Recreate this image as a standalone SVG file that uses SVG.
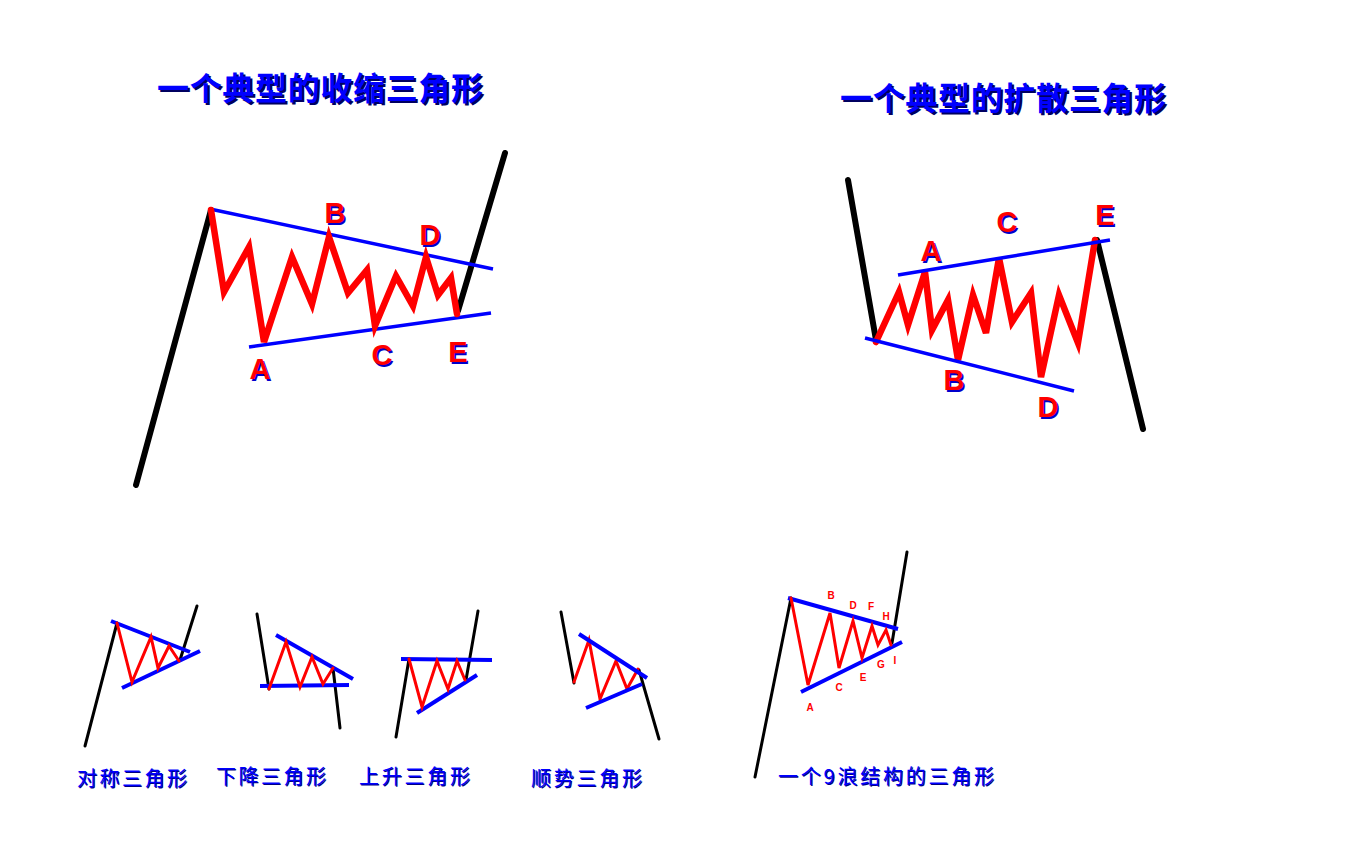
<svg xmlns="http://www.w3.org/2000/svg" width="1359" height="852" viewBox="0 0 1359 852">
<style>
.bk{fill:none;stroke:#000;stroke-linecap:round;stroke-linejoin:round}
.rd{fill:none;stroke:#ff0000;stroke-linejoin:miter;stroke-linecap:round}
.bl{fill:none;stroke:#0000ff;stroke-linecap:butt}
.title{font-family:"Noto Sans CJK SC",sans-serif;font-weight:bold;font-size:32px}
.tsh{fill:#000060}
.tfg{fill:#0000ff}
.lbl{font-family:"Liberation Sans",Arial,sans-serif;font-weight:bold;font-size:29px;text-anchor:middle}
.lsh{fill:#0000cc}
.lfg{fill:#ff0000}
.sl{font-family:"Liberation Sans",Arial,sans-serif;font-weight:bold;font-size:10px;text-anchor:middle;fill:#ff0000}
.cap{font-family:"Noto Sans CJK SC",sans-serif;font-size:20px;fill:#0000ff}
.capsh{font-family:"Noto Sans CJK SC",sans-serif;font-size:20px;fill:#000080}
</style>

<rect width="1359" height="852" fill="#ffffff"/>

<g id="title-left">
<text class="title tsh" x="159" y="102" textLength="326" lengthAdjust="spacing">一个典型的收缩三角形</text>
<text class="title tfg" x="157" y="100" textLength="326" lengthAdjust="spacing">一个典型的收缩三角形</text>
</g>
<g id="title-right">
<text class="title tsh" x="842" y="112" textLength="326" lengthAdjust="spacing">一个典型的扩散三角形</text>
<text class="title tfg" x="840" y="110" textLength="326" lengthAdjust="spacing">一个典型的扩散三角形</text>
</g>

<g id="connectors">
<g id="contracting">
<line class="bk" stroke-width="6" x1="136" y1="485" x2="211" y2="210"/>
<line class="bk" stroke-width="6" x1="458" y1="311" x2="505" y2="153"/>
<line class="bl" stroke-width="3.5" x1="210" y1="209" x2="493" y2="269"/>
<line class="bl" stroke-width="3.5" x1="249" y1="347" x2="491" y2="313"/>
<polyline class="rd" stroke-width="6.5" points="211,210 224,292 249,247 264,342 292,257 312,304 329,237 348,293 367,270 375,326 396,276 413,306 426,257 438,295 451,278 457,314"/>
</g>
<g id="expanding">
<line class="bk" stroke-width="6" x1="848" y1="180" x2="876" y2="340"/>
<line class="bk" stroke-width="6" x1="1097" y1="240" x2="1143" y2="429"/>
<polyline class="rd" stroke-width="6.5" points="876,342 899,292 908,325 925,272 932,330 948,300 958,360 973,295 986,333 999,258 1012,322 1031,293 1041,377 1059,295 1078,343 1095,240"/>
<line class="bl" stroke-width="3.5" x1="898" y1="275" x2="1110" y2="240"/>
<line class="bl" stroke-width="3.5" x1="865" y1="338" x2="1074" y2="391"/>
</g>
<g id="symmetric">
<line class="bk" stroke-width="3" x1="85" y1="746" x2="117" y2="623"/>
<line class="bk" stroke-width="3" x1="180" y1="660" x2="197" y2="606"/>
<line class="bl" stroke-width="4" x1="111" y1="621" x2="190" y2="652"/>
<line class="bl" stroke-width="4" x1="122" y1="688" x2="200" y2="651"/>
<polyline class="rd" stroke-width="3" points="117,623 132,682 151,637 158,668 169,646 179,661"/>
</g>
<g id="descending">
<line class="bk" stroke-width="3" x1="257" y1="614" x2="269" y2="689"/>
<line class="bk" stroke-width="3" x1="333" y1="668" x2="340" y2="728"/>
<line class="bl" stroke-width="4" x1="276" y1="635" x2="353" y2="679"/>
<line class="bl" stroke-width="4" x1="260" y1="686" x2="349" y2="685"/>
<polyline class="rd" stroke-width="3" points="269,689 286,642 300,687 312,657 323,684 333,668"/>
</g>
<g id="ascending">
<line class="bk" stroke-width="3" x1="396" y1="737" x2="409" y2="659"/>
<line class="bk" stroke-width="3" x1="466" y1="680" x2="478" y2="611"/>
<line class="bl" stroke-width="4" x1="401" y1="659" x2="492" y2="660"/>
<line class="bl" stroke-width="4" x1="417" y1="713" x2="477" y2="675"/>
<polyline class="rd" stroke-width="3" points="409,659 422,707 437,661 448,689 457,661 465,680"/>
</g>
<g id="trend">
<line class="bk" stroke-width="3" x1="561" y1="612" x2="574" y2="683"/>
<line class="bk" stroke-width="3" x1="639" y1="670" x2="659" y2="739"/>
<polyline class="rd" stroke-width="3" points="574,682 589,640 600,699 616,661 627,689 638,669"/>
<line class="bl" stroke-width="4" x1="579" y1="634" x2="647" y2="678"/>
<line class="bl" stroke-width="4" x1="586" y1="708" x2="642" y2="684"/>
</g>
<g id="ninewave">
<line class="bk" stroke-width="3" x1="755" y1="777" x2="791" y2="598"/>
<line class="bk" stroke-width="3" x1="892" y1="643" x2="907" y2="552"/>
<line class="bl" stroke-width="4" x1="788" y1="598" x2="898" y2="629"/>
<line class="bl" stroke-width="4" x1="801" y1="692" x2="902" y2="642"/>
<polyline class="rd" stroke-width="3" points="791,598 808,685 830,613 839,668 853,621 862,658 872,626 878,645 886,630 891,645"/>
</g>
</g>

<g id="labels-contracting">
<text class="lbl lsh" x="336.5" y="224.5">B</text><text class="lbl lfg" x="335" y="223">B</text>
<text class="lbl lsh" x="431.5" y="246.5">D</text><text class="lbl lfg" x="430" y="245">D</text>
<text class="lbl lsh" x="261.5" y="380.5">A</text><text class="lbl lfg" x="260" y="379">A</text>
<text class="lbl lsh" x="383.5" y="366.5">C</text><text class="lbl lfg" x="382" y="365">C</text>
<text class="lbl lsh" x="459.5" y="363.5">E</text><text class="lbl lfg" x="458" y="362">E</text>
</g>
<g id="labels-expanding">
<text class="lbl lsh" x="932.5" y="262.5">A</text><text class="lbl lfg" x="931" y="261">A</text>
<text class="lbl lsh" x="1008.5" y="233.5">C</text><text class="lbl lfg" x="1007" y="232">C</text>
<text class="lbl lsh" x="1106.5" y="226.5">E</text><text class="lbl lfg" x="1105" y="225">E</text>
<text class="lbl lsh" x="955.5" y="391.5">B</text><text class="lbl lfg" x="954" y="390">B</text>
<text class="lbl lsh" x="1049.5" y="418.5">D</text><text class="lbl lfg" x="1048" y="417">D</text>
</g>
<g id="labels-ninewave">
<text class="sl" x="831" y="599">B</text>
<text class="sl" x="853" y="609">D</text>
<text class="sl" x="871" y="610">F</text>
<text class="sl" x="886" y="620">H</text>
<text class="sl" x="810" y="711">A</text>
<text class="sl" x="839" y="691">C</text>
<text class="sl" x="863" y="681">E</text>
<text class="sl" x="881" y="668">G</text>
<text class="sl" x="895" y="664">I</text>
</g>

<g id="captions">
<text class="capsh" x="78" y="787" textLength="110" lengthAdjust="spacing">对称三角形</text>
<text class="cap" x="77" y="786" textLength="110" lengthAdjust="spacing">对称三角形</text>
<text class="capsh" x="217" y="785" textLength="110" lengthAdjust="spacing">下降三角形</text>
<text class="cap" x="216" y="784" textLength="110" lengthAdjust="spacing">下降三角形</text>
<text class="capsh" x="360" y="785" textLength="111" lengthAdjust="spacing">上升三角形</text>
<text class="cap" x="359" y="784" textLength="111" lengthAdjust="spacing">上升三角形</text>
<text class="capsh" x="532" y="787" textLength="111" lengthAdjust="spacing">顺势三角形</text>
<text class="cap" x="531" y="786" textLength="111" lengthAdjust="spacing">顺势三角形</text>
<text class="capsh" x="779" y="785" textLength="216" lengthAdjust="spacing">一个9浪结构的三角形</text>
<text class="cap" x="778" y="784" textLength="216" lengthAdjust="spacing">一个9浪结构的三角形</text>
</g>
</svg>
